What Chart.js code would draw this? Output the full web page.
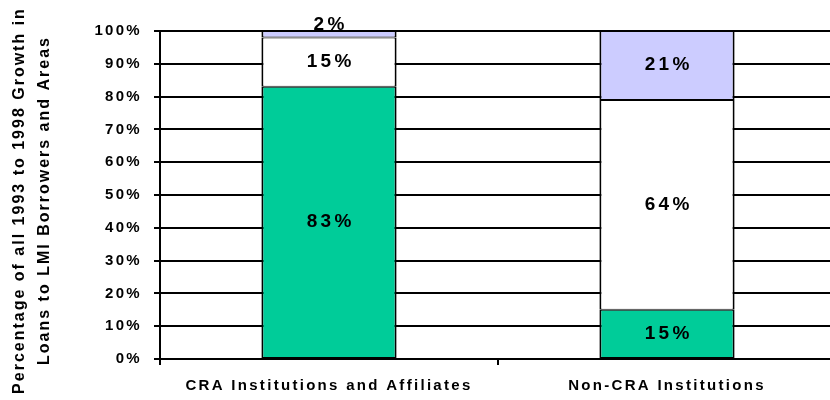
<!DOCTYPE html>
<html>
<head>
<meta charset="utf-8">
<script src="https://cdn.jsdelivr.net/npm/chart.js@4/dist/chart.umd.min.js"></script>
<style>
  html, body { margin: 0; padding: 0; overflow: hidden; background: #fff; width: 830px; height: 400px; }
  #wrap { width: 840px; height: 400px; }
</style>
</head>
<body>
<div id="wrap"><canvas id="c" width="840" height="400"></canvas></div>
<script>
// ---- data ----
const categories = ['CRA Institutions and Affiliates', 'Non-CRA Institutions'];
const seriesNames = ['Bottom segment', 'Middle segment', 'Top segment'];
const bottomValues = [83, 15];
const middleValues = [15, 64];
const topValues = [2, 21];
const yTicks = [0, 10, 20, 30, 40, 50, 60, 70, 80, 90, 100];
const yTitleLines = ['Percentage of all 1993 to 1998 Growth in', 'Loans to LMI Borrowers and Areas'];

const FONT = "'Liberation Sans', Arial, sans-serif";

const spacingPlugin = {
  id: 'spacing',
  beforeLayout(chart) { chart.ctx.letterSpacing = '2.3px'; },
  beforeDraw(chart) { chart.ctx.letterSpacing = '2.3px'; }
};

const titlePlugin = {
  id: 'ytitle',
  afterDraw(chart) {
    const ctx = chart.ctx;
    ctx.save();
    ctx.letterSpacing = '2px';
    ctx.translate(20, 201.5);
    ctx.rotate(-Math.PI / 2);
    ctx.fillStyle = '#000';
    ctx.font = 'bold 16px ' + FONT;
    ctx.textAlign = 'center';
    ctx.textBaseline = 'middle';
    yTitleLines.forEach((t, i) => ctx.fillText(t, 1, i * 24.5));
    ctx.restore();
  }
};

const labelPlugin = {
  id: 'seglabels',
  afterDatasetsDraw(chart) {
    const ctx = chart.ctx;
    ctx.save();
    ctx.letterSpacing = '3.3px';
    ctx.font = 'bold 19px ' + FONT;
    ctx.fillStyle = '#000';
    ctx.textAlign = 'center';
    ctx.textBaseline = 'middle';
    chart.data.datasets.forEach((ds, di) => {
      const meta = chart.getDatasetMeta(di);
      meta.data.forEach((el, i) => {
        const v = ds.data[i];
        const h = Math.abs(el.base - el.y);
        let y = (el.y + el.base) / 2 - 0.5;
        if (h < 20) y = el.y - 6;
        ctx.fillText(v + '%', el.x + 1.65, y);
      });
    });
    ctx.restore();
  }
};

new Chart(document.getElementById('c'), {
  type: 'bar',
  data: {
    labels: categories,
    datasets: [
      { label: seriesNames[0], data: bottomValues, backgroundColor: '#00CC99' },
      { label: seriesNames[1], data: middleValues, backgroundColor: '#FFFFFF' },
      { label: seriesNames[2], data: topValues, backgroundColor: '#CCCCFF' }
    ].map(d => Object.assign(d, {
      borderColor: '#000', borderWidth: { top: 1, bottom: 1, left: 2, right: 2 }, borderSkipped: false,
      categoryPercentage: 1, barPercentage: 0.4, inflateAmount: 0
    }))
  },
  options: {
    responsive: false,
    animation: false,
    layout: { padding: { top: 31, right: 4, bottom: 0, left: 0 } },
    plugins: { legend: { display: false }, tooltip: { enabled: false } },
    scales: {
      x: {
        stacked: true,
        offset: true,
        border: { display: true, color: '#000', width: 2 },
        grid: { display: true, drawOnChartArea: false, drawTicks: true, tickLength: 6, color: '#000', lineWidth: 2, offset: true },
        ticks: { color: '#000', font: { family: FONT, size: 15, weight: 'bold' }, padding: 12, maxRotation: 0, autoSkip: false },
        afterFit(s) { s.height = 41; s.paddingLeft = 0; s.paddingRight = 0; }
      },
      y: {
        stacked: true,
        min: 0, max: 100,
        afterBuildTicks(s) { s.ticks = yTicks.map(v => ({ value: v })); },
        border: { display: true, color: '#000', width: 2 },
        grid: { color: '#000', lineWidth: 2, tickLength: 6, drawTicks: true },
        ticks: { color: '#000', font: { family: FONT, size: 15, weight: 'bold' }, padding: 12, callback: v => v + '%' },
        afterFit(s) { s.width = 160; s.paddingTop = 0; s.paddingBottom = 0; }
      }
    }
  },
  plugins: [spacingPlugin, labelPlugin, titlePlugin]
});
</script>
</body>
</html>
